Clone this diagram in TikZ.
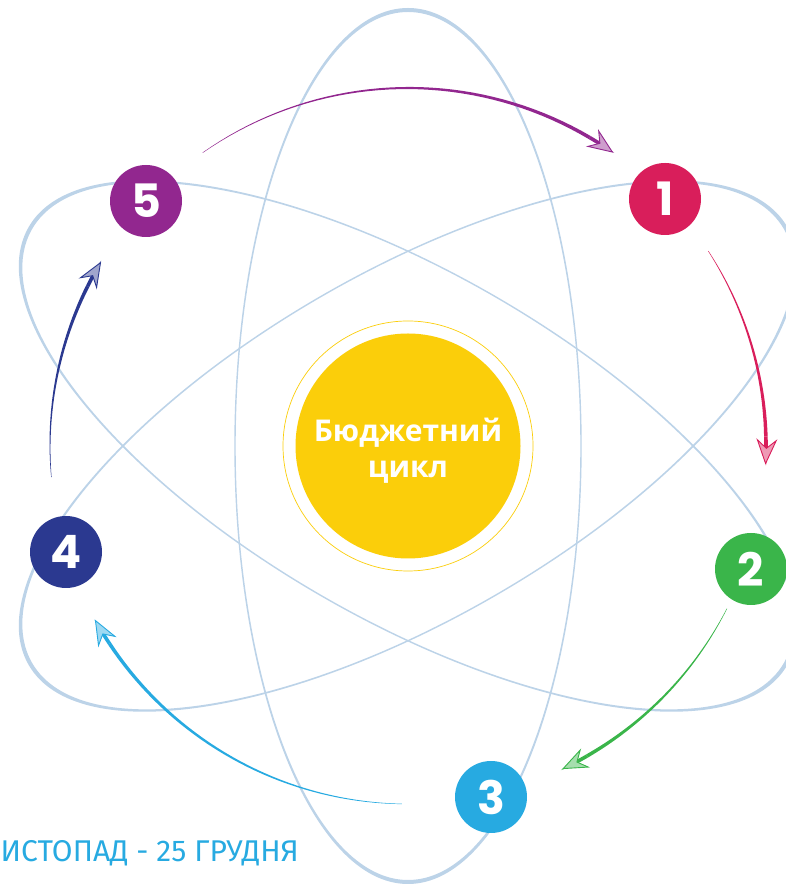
\documentclass[tikz,border=0pt]{standalone}
\usepackage{fontspec}
\setmainfont{Open Sans}
\newfontfamily\numfont{Poppins}
\newfontfamily\datefont{Fira Sans}
\usetikzlibrary{arrows.meta}
\definecolor{orbit}{HTML}{BCD3E8}
\definecolor{yel}{HTML}{FBCE0A}
\definecolor{cone}{HTML}{D91E5B}
\definecolor{ctwo}{HTML}{3AB54A}
\definecolor{cthree}{HTML}{27AAE1}
\definecolor{cfour}{HTML}{2B3990}
\definecolor{cfive}{HTML}{92278F}

% tapered arc round the centre: colour, start angle, shaft end, tip angle
\newcommand{\cyclearc}[4]{%
  \begin{scope}[shift={(hub.center)}]
    \fill[#1] plot[domain=#2:#3, samples=40] (\x:{358+0.2+1.6*(\x-#2)/(#3-#2)})
      -- plot[domain=#3:#2, samples=40] (\x:{358-0.2-1.6*(\x-#2)/(#3-#2)}) -- cycle;
    \draw[#1, line width=3.6pt,
          -{Stealth[length=26pt, width=21pt, inset=9pt, line width=0.9pt, fill=#1!45]}]
      (#3:358) arc[start angle=#3, end angle=#4, radius=358];
  \end{scope}}

\begin{document}
\begin{tikzpicture}[
  x=1pt, y=1pt,
  num/.style={circle, fill=#1, minimum size=72pt, inner sep=0pt, text=white,
              font=\numfont\bfseries\fontsize{46}{46}\selectfont},
  hubdisc/.style={circle, fill=yel, minimum size=225pt, inner sep=0pt},
  hubtext/.style={text=white, align=center, inner sep=0pt,
                  font=\bfseries\fontsize{30}{36}\selectfont},
  ring/.style={circle, draw=yel, line width=0.7pt, fill=white, minimum size=250pt},
]
\useasboundingbox (0,0) rectangle (786,885);
\clip (0,0) rectangle (786,885);

% ---- orbits ----
\begin{scope}[shift={(408,439)}]
  \foreach \ang in {0,60,-60}
    \fill[orbit, even odd rule, rotate=\ang]
      (0,0) ellipse[x radius=173.7, y radius=438.0]
      (0,0) ellipse[x radius=172.3, y radius=434.0];
\end{scope}

% ---- centre ----
\node[ring] (halo) at (408,439) {};
\node[hubdisc] (hub) at (halo) {};
\node[hubtext] (title) at (408,434) {Бюджетний\\цикл};

% ---- stages ----
\node[num=cone]   (n1) at (665,686) {1};
\node[num=ctwo]   (n2) at (751,316) {2};
\node[num=cthree] (n3) at (491,88)  {3};
\node[num=cfour]  (n4) at (66,333)  {4};
\node[num=cfive]  (n5) at (146,684) {5};

% ---- cycle arrows ----
\cyclearc{cfive}{125}{59.5}{55}
\cyclearc{cone}{33}{1.5}{-3}
\cyclearc{ctwo}{-27}{-60}{-64.5}
\cyclearc{cthree}{269}{213.5}{209}
\cyclearc{cfour}{185}{153.5}{149}

% ---- date line ----
\node[anchor=base east, inner sep=0pt, text=cthree,
      font=\datefont\fontsize{30}{30}\selectfont] (date) at (299,23)
  {ЛИСТОПАД - 25 ГРУДНЯ};
\end{tikzpicture}
\end{document}
